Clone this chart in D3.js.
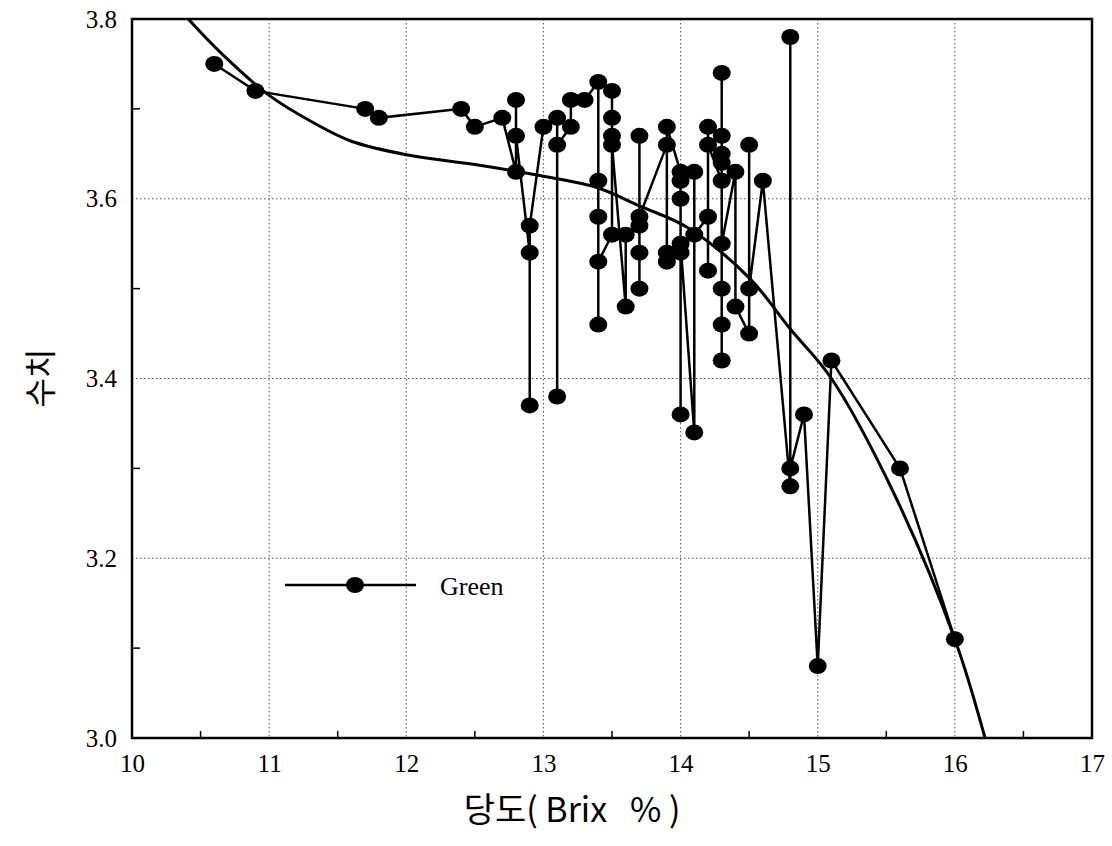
<!DOCTYPE html>
<html>
<head>
<meta charset="utf-8">
<script src="https://cdn.jsdelivr.net/npm/d3@7"></script>
<style>
  html, body { margin: 0; padding: 0; background: #fff; }
</style>
</head>
<body>
<div id="chart"></div>
<script>
// measured points (drawing order), x = brix, y = value
const brix = [
  10.6, 10.9, 11.7, 11.8, 12.4, 12.5, 12.7,
  12.8, 12.8, 12.8, 12.9, 12.9, 12.9, 13.0,
  13.1, 13.1, 13.1, 13.2, 13.2, 13.3,
  13.4, 13.4, 13.4, 13.4, 13.4,
  13.5, 13.5, 13.5, 13.5, 13.5, 13.6, 13.6,
  13.7, 13.7, 13.7, 13.7, 13.7,
  13.9, 13.9, 13.9, 13.9,
  14.0, 14.0, 14.0, 14.0, 14.0, 14.0,
  14.1, 14.1, 14.1, 14.2, 14.2, 14.2, 14.2,
  14.3, 14.3, 14.3, 14.3, 14.3, 14.3, 14.3, 14.3, 14.3,
  14.4, 14.4, 14.5, 14.5, 14.5, 14.6,
  14.8, 14.8, 14.8, 14.9, 15.0, 15.1, 15.6, 16.0
]
const green = [
  3.75, 3.72, 3.70, 3.69, 3.70, 3.68, 3.69,
  3.63, 3.71, 3.67, 3.54, 3.37, 3.57, 3.68,
  3.69, 3.38, 3.66, 3.68, 3.71, 3.71,
  3.73, 3.62, 3.58, 3.46, 3.53,
  3.56, 3.72, 3.69, 3.67, 3.66, 3.48, 3.56,
  3.57, 3.50, 3.54, 3.67, 3.58,
  3.66, 3.53, 3.54, 3.68,
  3.63, 3.62, 3.60, 3.36, 3.54, 3.55,
  3.34, 3.63, 3.56, 3.58, 3.52, 3.68, 3.66,
  3.62, 3.74, 3.67, 3.65, 3.64, 3.42, 3.46, 3.50, 3.55,
  3.63, 3.48, 3.45, 3.66, 3.50, 3.62,
  3.28, 3.78, 3.30, 3.36, 3.08, 3.42, 3.30, 3.11
]
// fitted trend curve
const fitX = [10.41, 10.65, 11.0, 11.33, 11.6, 12.0, 12.5, 13.0, 13.4, 13.7, 14.05, 14.5, 14.8, 15.1, 15.55, 16.0, 16.22]
const fitY = [3.80, 3.762, 3.715, 3.684, 3.664, 3.649, 3.638, 3.625, 3.612, 3.592, 3.568, 3.512, 3.455, 3.40, 3.274, 3.11, 3.0]

const xTicks = [10, 11, 12, 13, 14, 15, 16, 17]
const yTicks = [3.0, 3.2, 3.4, 3.6, 3.8]
const xMinor = [10.5, 11.5, 12.5, 13.5, 14.5, 15.5, 16.5]
const yMinor = [3.1, 3.3, 3.5, 3.7]

const width = 1112
const height = 846
const margin = { top: 19, right: 20, bottom: 108, left: 132 }
const serif = '"Liberation Serif", "DejaVu Serif", serif'
const kor = '"Noto Sans CJK KR", "Noto Sans", sans-serif'

const svg = d3.select('#chart')
  .append('svg')
  .attr('width', width)
  .attr('height', height)
  .style('background', '#fff')

const x = d3.scaleLinear()
  .domain([10, 17])
  .range([margin.left, width - margin.right])
const y = d3.scaleLinear()
  .domain([3.0, 3.8])
  .range([height - margin.bottom, margin.top])

// dotted grid
const grid = svg.append('g')
grid.selectAll('line.gx')
  .data(xTicks.slice(1, -1))
  .enter()
  .append('line')
  .attr('x1', d => x(d)).attr('x2', d => x(d))
  .attr('y1', y(3.8)).attr('y2', y(3.0))
  .style('stroke', '#555')
  .style('stroke-width', 1)
  .style('stroke-dasharray', '1.5,2.5')
grid.selectAll('line.gy')
  .data(yTicks.slice(1, -1))
  .enter()
  .append('line')
  .attr('x1', x(10)).attr('x2', x(17))
  .attr('y1', d => y(d)).attr('y2', d => y(d))
  .style('stroke', '#555')
  .style('stroke-width', 1)
  .style('stroke-dasharray', '1.5,2.5')

// axes
const xAxis = svg.append('g')
  .attr('transform', `translate(0,${y(3.0)})`)
  .call(d3.axisBottom(x).tickValues(xTicks).tickSize(0).tickPadding(16).tickFormat(d3.format('d')))
xAxis.select('.domain').remove()
xAxis.selectAll('text')
  .style('font-family', serif)
  .style('font-size', '25px')
  .style('fill', '#000')

const yAxis = svg.append('g')
  .attr('transform', `translate(${x(10)},0)`)
  .call(d3.axisLeft(y).tickValues(yTicks).tickSize(0).tickPadding(15).tickFormat(d3.format('.1f')))
yAxis.select('.domain').remove()
yAxis.selectAll('text')
  .style('font-family', serif)
  .style('font-size', '25px')
  .style('fill', '#000')

// minor inner ticks
svg.append('g')
  .selectAll('line')
  .data(xMinor)
  .enter()
  .append('line')
  .attr('x1', d => x(d)).attr('x2', d => x(d))
  .attr('y1', y(3.0)).attr('y2', y(3.0) - 7)
  .style('stroke', '#000')
  .style('stroke-width', 1.5)
svg.append('g')
  .selectAll('line')
  .data(yMinor)
  .enter()
  .append('line')
  .attr('x1', x(10)).attr('x2', x(10) + 8)
  .attr('y1', d => y(d)).attr('y2', d => y(d))
  .style('stroke', '#000')
  .style('stroke-width', 1.5)

// frame
svg.append('rect')
  .attr('x', x(10))
  .attr('y', y(3.8))
  .attr('width', x(17) - x(10))
  .attr('height', y(3.0) - y(3.8))
  .style('fill', 'none')
  .style('stroke', '#000')
  .style('stroke-width', 2.5)

// clip to plot area
svg.append('clipPath')
  .attr('id', 'plot-clip')
  .append('rect')
  .attr('x', x(10))
  .attr('y', y(3.8))
  .attr('width', x(17) - x(10))
  .attr('height', y(3.0) - y(3.8))

const plot = svg.append('g').attr('clip-path', 'url(#plot-clip)')

// trend curve
const fit = d3.line()
  .x((d, i) => x(fitX[i]))
  .y(d => y(d))
  .curve(d3.curveCatmullRom.alpha(0.5))
plot.append('path')
  .attr('d', fit(fitY))
  .style('fill', 'none')
  .style('stroke', '#000')
  .style('stroke-width', 3)

// measured series
const line = d3.line()
  .x((d, i) => x(brix[i]))
  .y(d => y(d))
plot.append('path')
  .attr('d', line(green))
  .style('fill', 'none')
  .style('stroke', '#000')
  .style('stroke-width', 2.5)
svg.append('g')
  .selectAll('ellipse')
  .data(green)
  .enter()
  .append('ellipse')
  .attr('cx', (d, i) => x(brix[i]))
  .attr('cy', d => y(d))
  .attr('rx', 9)
  .attr('ry', 8)
  .style('fill', '#000')

// legend
const legend = svg.append('g').attr('transform', 'translate(285,585)')
legend.append('line')
  .attr('x1', 0).attr('x2', 131)
  .attr('y1', 0).attr('y2', 0)
  .style('stroke', '#000')
  .style('stroke-width', 2.5)
legend.append('ellipse')
  .attr('cx', 70).attr('cy', 0)
  .attr('rx', 9).attr('ry', 8)
  .style('fill', '#000')
legend.append('text')
  .attr('x', 155)
  .attr('y', 10)
  .style('font-family', serif)
  .style('font-size', '26px')
  .text('Green')

// axis titles
svg.append('text')
  .attr('x', 572)
  .attr('y', 822)
  .attr('text-anchor', 'middle')
  .style('font-family', kor)
  .style('font-size', '34px')
  .text('당도(\u00a0Brix\u00a0\u00a0\u00a0%\u00a0)')
svg.append('text')
  .attr('transform', 'translate(52,378) rotate(-90)')
  .attr('text-anchor', 'middle')
  .style('font-family', kor)
  .style('font-size', '32px')
  .text('수치')
</script>
</body>
</html>
